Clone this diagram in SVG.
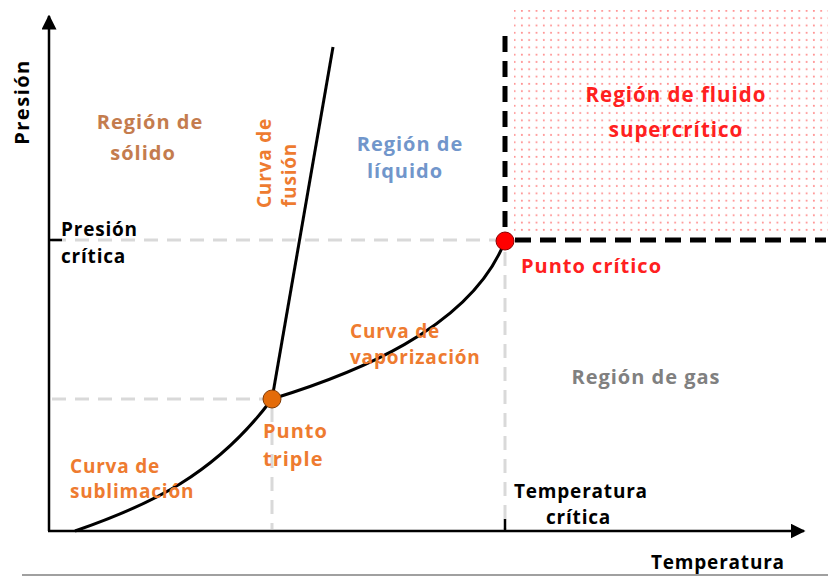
<svg xmlns="http://www.w3.org/2000/svg" width="828" height="577" viewBox="0 0 828 577">
<defs>
<style>
text{font-family:"Open Sans","Liberation Sans",sans-serif;font-weight:bold}
.lbl{font-size:19px;letter-spacing:0.8px}
.reg{font-size:20px;letter-spacing:1px}
.org{fill:#EE7B30}
.axis{stroke:#000;stroke-width:2.5;fill:none}
.curve{stroke:#000;stroke-width:3;fill:none}
.gdash{stroke:#D9D9D9;stroke-width:3;stroke-dasharray:14 9;fill:none}
.bdash{stroke:#000;stroke-width:5;stroke-dasharray:16 9;fill:none}
</style>
<pattern id="dots" width="7.3" height="7.3" patternUnits="userSpaceOnUse">
<circle cx="3.6" cy="3.6" r="1" fill="#FF6A6A" fill-opacity="0.75"/>
</pattern>
<marker id="arr" viewBox="0 0 10 10" refX="9" refY="5" markerWidth="6" markerHeight="6" markerUnits="strokeWidth" orient="auto">
<path d="M0,0 L10,5 L0,10 z" fill="#000"/>
</marker>
</defs>
<rect id="supercritical-region" x="514" y="10" width="314" height="222" fill="url(#dots)"/>
<g id="connectors">
<line class="gdash" x1="52" y1="240" x2="500" y2="240"/>
<line class="gdash" x1="52" y1="399" x2="266" y2="399"/>
<line class="gdash" x1="272" y1="408" x2="272" y2="529"/>
<line class="gdash" x1="505" y1="252" x2="505" y2="529"/>
<line class="bdash" x1="505" y1="36" x2="505" y2="236"/>
<line class="bdash" x1="515" y1="240" x2="826" y2="240"/>
<path class="curve" d="M75,531 C150,505 215,475 272,399"/>
<path class="curve" d="M272,399 L333,47"/>
<path class="curve" d="M272,399 C350,375 470,330 505,241"/>
<line class="axis" x1="49" y1="531" x2="49" y2="16" marker-end="url(#arr)"/>
<line class="axis" x1="48" y1="531" x2="804" y2="531" marker-end="url(#arr)"/>
<line class="axis" x1="49" y1="240" x2="62" y2="240" stroke-width="1.5"/>
<line class="axis" x1="505" y1="531" x2="505" y2="519" stroke-width="1.5"/>
<line x1="22" y1="575" x2="828" y2="575" stroke="#A0A0A0" stroke-width="2"/>
</g>
<g id="triple-point"><circle cx="272" cy="399" r="9" fill="#E46C0A" stroke="#7F3A05" stroke-width="1"/>
<text class="reg org" x="263" y="438">Punto</text><text class="reg org" x="263" y="466">triple</text></g>
<g id="critical-point"><circle cx="505" cy="241" r="9" fill="#FF0000" stroke="#8B0000" stroke-width="1"/>
<text class="reg" x="521" y="273" fill="#FF2020">Punto crítico</text></g>
<g id="y-label"><text class="lbl" transform="translate(29,102) rotate(-90)" text-anchor="middle" fill="#000" style="font-size:20px;letter-spacing:1.5px">Presión</text></g>
<g id="x-label"><text class="lbl" x="651" y="569" fill="#000">Temperatura</text></g>
<g id="solid-region"><text class="reg" x="150" y="129" text-anchor="middle" fill="#C47C4E">Región de</text><text class="reg" x="143" y="160" text-anchor="middle" fill="#C47C4E">sólido</text></g>
<g id="liquid-region"><text class="reg" x="410" y="151" text-anchor="middle" fill="#7196CB">Región de</text><text class="reg" x="405" y="178" text-anchor="middle" fill="#7196CB">líquido</text></g>
<g id="fluid-region"><text class="reg" x="676" y="102" text-anchor="middle" fill="#FF2020" style="font-size:20.5px">Región de fluido</text><text class="reg" x="676" y="137" text-anchor="middle" fill="#FF2020" style="font-size:20.5px">supercrítico</text></g>
<g id="gas-region"><text class="reg" x="646" y="384" text-anchor="middle" fill="#808080">Región de gas</text></g>
<g id="fusion-curve"><text class="lbl org" transform="translate(271,163) rotate(-90)" text-anchor="middle">Curva de</text><text class="lbl org" transform="translate(296,175) rotate(-90)" text-anchor="middle">fusión</text></g>
<g id="vaporization-curve"><text class="lbl org" x="350" y="338">Curva de</text><text class="lbl org" x="350" y="364">vaporización</text></g>
<g id="sublimation-curve"><text class="lbl org" x="70" y="473">Curva de</text><text class="lbl org" x="70" y="498">sublimación</text></g>
<g id="critical-pressure"><text class="lbl" x="61" y="236" fill="#000">Presión</text><text class="lbl" x="61" y="263" fill="#000">crítica</text></g>
<g id="critical-temperature"><text class="lbl" x="514" y="498" fill="#000">Temperatura</text><text class="lbl" x="546" y="524" fill="#000">crítica</text></g>
</svg>
